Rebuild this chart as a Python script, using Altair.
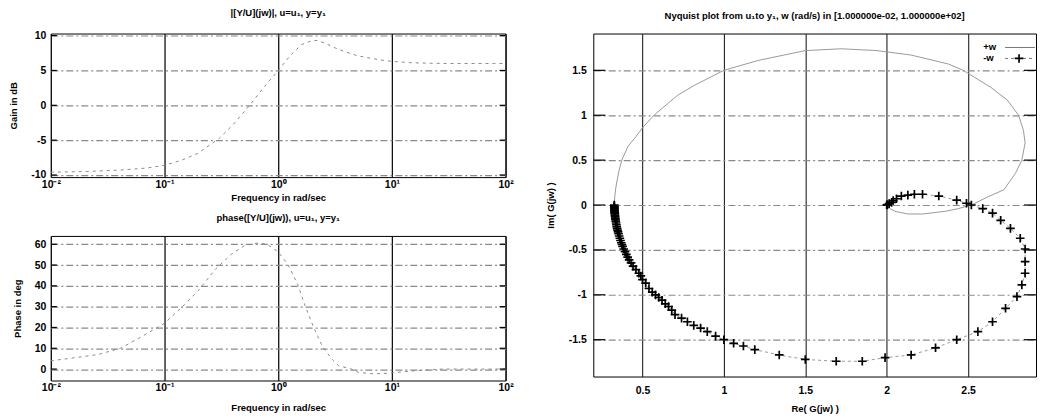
import altair as alt
import pandas as pd

FONT = "Liberation Sans"

# ---------------- data ----------------
freq_ticks = [0.01, 0.1, 1, 10, 100]
freq_tick_labels = ["10\u207b\u00b2", "10\u207b\u00b9", "10\u2070", "10\u00b9", "10\u00b2"]

gain_w = [0.01, 0.02, 0.04, 0.07, 0.1, 0.14, 0.196, 0.225, 0.3, 0.4,
          0.56, 0.75, 1.0, 1.27, 1.6, 2.0, 2.2, 2.6, 3.2, 4.0,
          5.0, 6.3, 8.0, 10, 15, 20, 30, 50, 80, 100]
gain_db = [-9.6, -9.5, -9.3, -9.0, -8.6, -7.9, -6.9, -6.2, -4.8, -2.8,
           0.0, 2.6, 5.0, 7.1, 8.7, 9.3, 9.3, 8.9, 8.2, 7.6,
           7.1, 6.8, 6.5, 6.3, 6.1, 6.05, 6.0, 6.0, 6.0, 6.0]
gain_ticks = [-10, -5, 0, 5, 10]

phase_w = [0.01, 0.016, 0.026, 0.041, 0.058, 0.1, 0.15, 0.2, 0.28, 0.387,
           0.51, 0.65, 0.8, 1.0, 1.22, 1.48, 1.72, 2.03, 2.45, 3.0,
           3.4, 4.4, 5.1, 6.5, 8.1, 10, 16, 28, 50, 100]
phase_deg = [4, 5.4, 7, 10, 14.5, 22, 31, 38, 48, 55.2,
             59.5, 60.5, 60, 56.3, 50.2, 40.8, 30.6, 20.6, 10.8, 4.5,
             1.6, 0, -1.6, -2.2, -2.2, -1.8, -0.8, 0, 0, 0]
phase_ticks = [0, 10, 20, 30, 40, 50, 60]

# Nyquist, +w branch (line)
pos_re = [0.327, 0.330, 0.337, 0.347, 0.357, 0.373, 0.41, 0.459, 0.50, 0.571,
          0.714, 0.816, 1.0, 1.21, 1.5, 1.72, 1.94, 2.15, 2.38, 2.47,
          2.64, 2.74, 2.81, 2.84, 2.85, 2.83, 2.79, 2.72, 2.62, 2.52,
          2.44, 2.36, 2.22, 2.13, 2.05, 2.02, 2.0]
pos_im = [0.0, 0.1, 0.2, 0.3, 0.39, 0.5, 0.65, 0.76, 0.86, 1.0,
          1.22, 1.33, 1.5, 1.61, 1.72, 1.74, 1.72, 1.67, 1.57, 1.5,
          1.31, 1.17, 1.0, 0.83, 0.69, 0.5, 0.35, 0.17, 0.09, 0.0,
          -0.04, -0.07, -0.1, -0.1, -0.07, -0.04, 0.0]

# Nyquist, -w branch (line + markers)
neg_re = [0.327, 0.327, 0.327, 0.327, 0.328, 0.328, 0.328, 0.329, 0.329, 0.330,
          0.330, 0.331, 0.332, 0.333, 0.334, 0.336, 0.338, 0.340, 0.342, 0.344,
          0.347, 0.350, 0.353, 0.357, 0.361, 0.365, 0.370, 0.374, 0.378, 0.385,
          0.393, 0.401, 0.409, 0.418, 0.430, 0.442, 0.460, 0.478, 0.490, 0.500,
          0.520, 0.540, 0.560, 0.580, 0.600, 0.620, 0.640, 0.660, 0.680, 0.700,
          0.740, 0.776, 0.815, 0.857, 0.898, 0.949, 1.000, 1.060, 1.120, 1.190,
          1.340, 1.500, 1.690, 1.850, 1.990, 2.150, 2.300, 2.430, 2.560, 2.650,
          2.730, 2.800, 2.830, 2.850, 2.850, 2.850, 2.820, 2.760, 2.700, 2.650,
          2.590, 2.520, 2.490, 2.430, 2.320, 2.220, 2.170, 2.130, 2.090, 2.060,
          2.040, 2.030, 2.015, 2.005, 2.000]
neg_im = [0.0, -0.01, -0.02, -0.03, -0.04, -0.05, -0.06, -0.07, -0.08, -0.09,
          -0.10, -0.115, -0.13, -0.145, -0.16, -0.18, -0.20, -0.22, -0.24, -0.26,
          -0.28, -0.30, -0.32, -0.345, -0.37, -0.395, -0.42, -0.44, -0.46, -0.49,
          -0.52, -0.55, -0.58, -0.61, -0.645, -0.68, -0.72, -0.76, -0.79, -0.83,
          -0.87, -0.93, -0.97, -1.00, -1.03, -1.06, -1.10, -1.13, -1.17, -1.22,
          -1.26, -1.30, -1.34, -1.37, -1.41, -1.46, -1.50, -1.54, -1.57, -1.61,
          -1.67, -1.72, -1.74, -1.74, -1.70, -1.67, -1.59, -1.50, -1.41, -1.30,
          -1.15, -1.02, -0.89, -0.76, -0.63, -0.49, -0.37, -0.26, -0.17, -0.09,
          -0.04, 0.0, 0.02, 0.055, 0.10, 0.12, 0.12, 0.11, 0.10, 0.07,
          0.05, 0.03, 0.015, 0.005, 0.0]
re_ticks = [0.5, 1, 1.5, 2, 2.5]
im_ticks = [-1.5, -1, -0.5, 0, 0.5, 1, 1.5]

gain_title = "|[Y/U](jw)|, u=u\u2081, y=y\u2081"
phase_title = "phase([Y/U](jw)), u=u\u2081, y=y\u2081"
nyq_title = "Nyquist plot from u\u2081to y\u2081, w (rad/s) in [1.000000e-02, 1.000000e+02]"

# ---------------- helpers ----------------
freq_label_expr = " : ".join(
    [f"datum.value < {v * 3.0} ? '{lab}'" for v, lab in zip(freq_ticks[:-1], freq_tick_labels[:-1])]
) + f" : '{freq_tick_labels[-1]}'"

VGRID = dict(grid=True, gridColor="#111111", gridWidth=1.3)
HGRID = dict(grid=True, gridColor="#8a8a8a", gridWidth=1.2, gridDash=[7, 3, 2, 3])
CURVE = dict(color="#8a8a8a", strokeWidth=1.0, strokeDash=[3, 4], clip=True)
BODE_W = 456


def freq_axis(title_pad):
    return alt.Axis(values=freq_ticks, labelExpr=freq_label_expr, title="Frequency in rad/sec",
                    ticks=False, domain=False, labelPadding=2, titlePadding=title_pad,
                    labelFlush=False, **VGRID)


def inner_ticks(field, vals, yscale, yaxis, width, length):
    df = pd.DataFrame({field: vals})
    left_t = alt.Chart(df).mark_rule(color="black", strokeWidth=1.2).encode(
        y=alt.Y(f"{field}:Q", scale=yscale, axis=yaxis), x=alt.value(0), x2=alt.value(length))
    right_t = alt.Chart(df).mark_rule(color="black", strokeWidth=1.2).encode(
        y=alt.Y(f"{field}:Q", scale=yscale, axis=yaxis), x=alt.value(width - length),
        x2=alt.value(width))
    return [left_t, right_t]


def bode(w, vals, ydom, yticks, ytitle, title, height, title_pad):
    df = pd.DataFrame({"w": w, "v": vals})
    ysc = alt.Scale(domain=ydom, nice=False, zero=False)
    yax = alt.Axis(values=yticks, labelExpr="'' + datum.value", title=ytitle,
                   ticks=False, domain=False, labelPadding=5, titlePadding=12, **HGRID)
    line = alt.Chart(df).mark_line(**CURVE).encode(
        x=alt.X("w:Q", scale=alt.Scale(type="log", domain=[0.01, 100], nice=False),
                axis=freq_axis(title_pad)),
        y=alt.Y("v:Q", scale=ysc, axis=yax),
    )
    return alt.layer(line, *inner_ticks("v", yticks, ysc, yax, BODE_W, 6)).properties(
        width=BODE_W, height=height, title=alt.TitleParams(title, offset=13))


gain_chart = bode(gain_w, gain_db, [-10.3, 10.3], gain_ticks, "Gain in dB", gain_title, 144, 3)
phase_chart = bode(phase_w, phase_deg, [-5.5, 64], phase_ticks, "Phase in deg", phase_title, 145, 10)

# ---------------- Nyquist ----------------
NYQ_W = 444
pos_df = pd.DataFrame({"re": pos_re, "im": pos_im, "i": range(len(pos_re))})
neg_df = pd.DataFrame({"re": neg_re, "im": neg_im, "i": range(len(neg_re))})

xs = alt.Scale(domain=[0.198, 2.917], nice=False, zero=False)
ys = alt.Scale(domain=[-1.91, 1.91], nice=False, zero=False)
x_ax = alt.Axis(values=re_ticks, labelExpr="'' + datum.value", title="Re( G(jw) )",
                ticks=False, domain=False, labelPadding=9, titlePadding=8,
                grid=True, gridColor="#222222", gridWidth=1.1)
y_ax = alt.Axis(values=im_ticks, labelExpr="'' + datum.value", title="Im( G(jw) )",
                ticks=False, domain=False, labelPadding=7, titlePadding=13, **HGRID)
x_enc = alt.X("re:Q", scale=xs, axis=x_ax)
y_enc = alt.Y("im:Q", scale=ys, axis=y_ax)

pos_line = alt.Chart(pos_df).mark_line(color="#9a9a9a", strokeWidth=1.0, clip=True).encode(
    x=x_enc, y=y_enc, order="i:Q")
neg_line = alt.Chart(neg_df).mark_line(color="#9a9a9a", strokeWidth=1.0, strokeDash=[3, 3],
                                       clip=True).encode(x=x_enc, y=y_enc, order="i:Q")
PLUS = "M-1,0L1,0M0,-1L0,1"
neg_pts = alt.Chart(neg_df).mark_point(shape=PLUS, size=75, filled=False, color="black",
                                       strokeWidth=1.7, opacity=1).encode(x=x_enc, y=y_enc)

one = pd.DataFrame({"k": [0]})
leg_txt1 = alt.Chart(one).mark_text(text="+w", align="left", baseline="middle", font=FONT,
                                    fontSize=9.5, fontWeight="bold").encode(
    x=alt.value(391), y=alt.value(14))
leg_txt2 = alt.Chart(one).mark_text(text="-w", align="left", baseline="middle", font=FONT,
                                    fontSize=9.5, fontWeight="bold").encode(
    x=alt.value(391), y=alt.value(25))
leg_line1 = alt.Chart(one).mark_rule(color="#777777", strokeWidth=1).encode(
    x=alt.value(413), x2=alt.value(443), y=alt.value(14))
leg_line2 = alt.Chart(one).mark_rule(color="#777777", strokeWidth=1, strokeDash=[3, 3]).encode(
    x=alt.value(413), x2=alt.value(443), y=alt.value(25))
leg_pt = alt.Chart(one).mark_point(shape=PLUS, size=75, filled=False, color="black",
                                   strokeWidth=1.7, opacity=1).encode(
    x=alt.value(427), y=alt.value(25))

nyquist = alt.layer(pos_line, neg_line, neg_pts, *inner_ticks("im", im_ticks, ys, y_ax, NYQ_W, 12),
                    leg_txt1, leg_txt2, leg_line1, leg_line2, leg_pt).properties(
    width=NYQ_W, height=344, title=alt.TitleParams(nyq_title, offset=13))

left = alt.vconcat(gain_chart, phase_chart, spacing=10)
chart = alt.hconcat(left, nyquist, spacing=30).properties(
    padding={"left": 0, "top": -1, "right": 0, "bottom": 0}
).configure_view(
    stroke="black", strokeWidth=1
).configure_axis(
    labelFont=FONT, titleFont=FONT, labelFontSize=10.5, titleFontSize=9.5,
    labelFontWeight="bold", titleFontWeight="bold", labelColor="black", titleColor="black"
).configure_title(
    font=FONT, fontSize=9.5, fontWeight="bold", color="black", anchor="middle"
)

chart.save("out.html", embed_options={"renderer": "svg", "actions": False})
